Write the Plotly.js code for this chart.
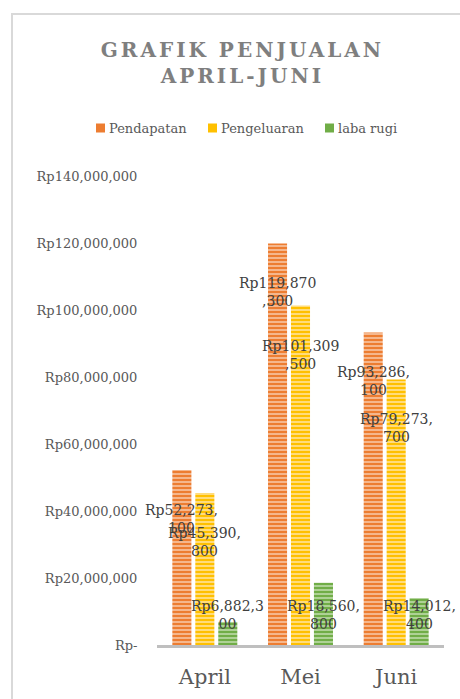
<!DOCTYPE html>
<html>
<head>
<meta charset="utf-8">
<script src="https://cdn.plot.ly/plotly-3.0.1.min.js"></script>
<style>
html,body{margin:0;padding:0;background:#fff;overflow:hidden;width:460px;height:699px;}
#chart{width:460px;height:699px;position:absolute;left:0;top:0;}
#frame{position:absolute;left:11px;top:13px;width:600px;height:800px;border:2px solid #d9d9d9;pointer-events:none;}
</style>
</head>
<body>
<div id="chart"></div>
<div id="frame"></div>
<script>
const categories = ["April", "Mei", "Juni"];
const seriesNames = ["Pendapatan", "Pengeluaran", "laba rugi"];
const pendapatan = [52273100, 119870300, 93286100];
const pengeluaran = [45390800, 101309500, 79273700];
const labaRugi = [6882300, 18560800, 14012400];
const yTickVals = [0, 20000000, 40000000, 60000000, 80000000, 100000000, 120000000, 140000000];
const yTickText = ["Rp-", "Rp20,000,000", "Rp40,000,000", "Rp60,000,000", "Rp80,000,000", "Rp100,000,000", "Rp120,000,000", "Rp140,000,000"];

const FONT = "DejaVu Serif";
const colors = ["#ED7D31", "#FFC000", "#70AD47"];
const stripes = ["#F6BE98", "#FFE08A", "#B5D69E"];
const seriesData = [pendapatan, pengeluaran, labaRugi];

// plot area geometry (px) used to place the custom legend
const W = 460, H = 699, ML = 157, MR = 16, MT = 176, MB = 54;
const PW = W - ML - MR, PH = H - MT - MB;
const px2x = p => (p - ML) / PW;
const py2y = p => (H - MB - p) / PH;

function fmt(v){ return "Rp" + v.toLocaleString("en-US"); }
function wrap(s){ return s.length > 9 ? s.slice(0,9) + "<br>" + s.slice(9) : s; }

const traces = seriesData.map((vals, i) => ({
  type: "bar",
  name: seriesNames[i],
  x: categories,
  y: vals,
  marker: {
    color: colors[i],
    line: {width: 0},
    pattern: {shape: "-", bgcolor: colors[i], fgcolor: stripes[i], size: 4, solidity: 0.45, fillmode: "replace"}
  },
  hoverinfo: "none",
  showlegend: false
}));

// data labels
const annotations = [];
const offsets = [-0.24, 0, 0.24];
seriesData.forEach((vals, i) => {
  vals.forEach((v, j) => {
    const isGreen = i === 2;
    annotations.push({
      x: j + offsets[i],
      y: isGreen ? 0 : v,
      xref: "x", yref: "y",
      text: wrap(fmt(v)),
      showarrow: false,
      yshift: isGreen ? 30 : -49,
      font: {family: FONT, size: 14, color: "#404040"},
      align: "center"
    });
  });
});

// custom legend (square + text)
const legendX = [96, 208, 325];
const legendY = 128;
const shapes = [];
seriesNames.forEach((n, i) => {
  shapes.push({
    type: "rect", xref: "paper", yref: "paper",
    x0: px2x(legendX[i]), x1: px2x(legendX[i] + 9),
    y0: py2y(legendY + 4.5), y1: py2y(legendY - 4.5),
    fillcolor: colors[i], line: {width: 0}
  });
  annotations.push({
    xref: "paper", yref: "paper",
    x: px2x(legendX[i] + 11), y: py2y(legendY),
    xanchor: "left", yanchor: "middle",
    text: n, showarrow: false,
    font: {family: FONT, size: 13, color: "#595959"}
  });
});

const layout = {
  width: W, height: H,
  margin: {l: ML, r: MR, t: MT, b: MB},
  paper_bgcolor: "#fff", plot_bgcolor: "#fff",
  title: {
    text: "GRAFIK PENJUALAN<br>APRIL-JUNI",
    font: {family: FONT, size: 20, color: "#7F7F7F", weight: "bold"},
    x: 0.527, xanchor: "center", xref: "container",
    y: 1 - 57 / H, yanchor: "top", yref: "container"
  },
  showlegend: false,
  barmode: "group",
  bargap: 0.28,
  bargroupgap: 0.17,
  xaxis: {
    type: "category",
    range: [-0.5, 2.5],
    showline: true, linecolor: "#BFBFBF", linewidth: 3,
    showgrid: false, zeroline: false,
    ticks: "outside", ticklen: 11, tickcolor: "rgba(0,0,0,0)",
    tickfont: {family: FONT, size: 21, color: "#595959"}
  },
  yaxis: {
    range: [0, 140000000],
    tickvals: yTickVals, ticktext: yTickText,
    showgrid: false, zeroline: false, showline: false,
    ticks: "outside", ticklen: 16, tickcolor: "rgba(0,0,0,0)",
    tickfont: {family: FONT, size: 13, color: "#595959"}
  },
  shapes: shapes,
  annotations: annotations
};

Plotly.newPlot("chart", traces, layout, {staticPlot: true}).then(() => {
  document.querySelectorAll(".gtitle").forEach(t => { t.style.letterSpacing = "3px"; });
});
</script>
</body>
</html>
